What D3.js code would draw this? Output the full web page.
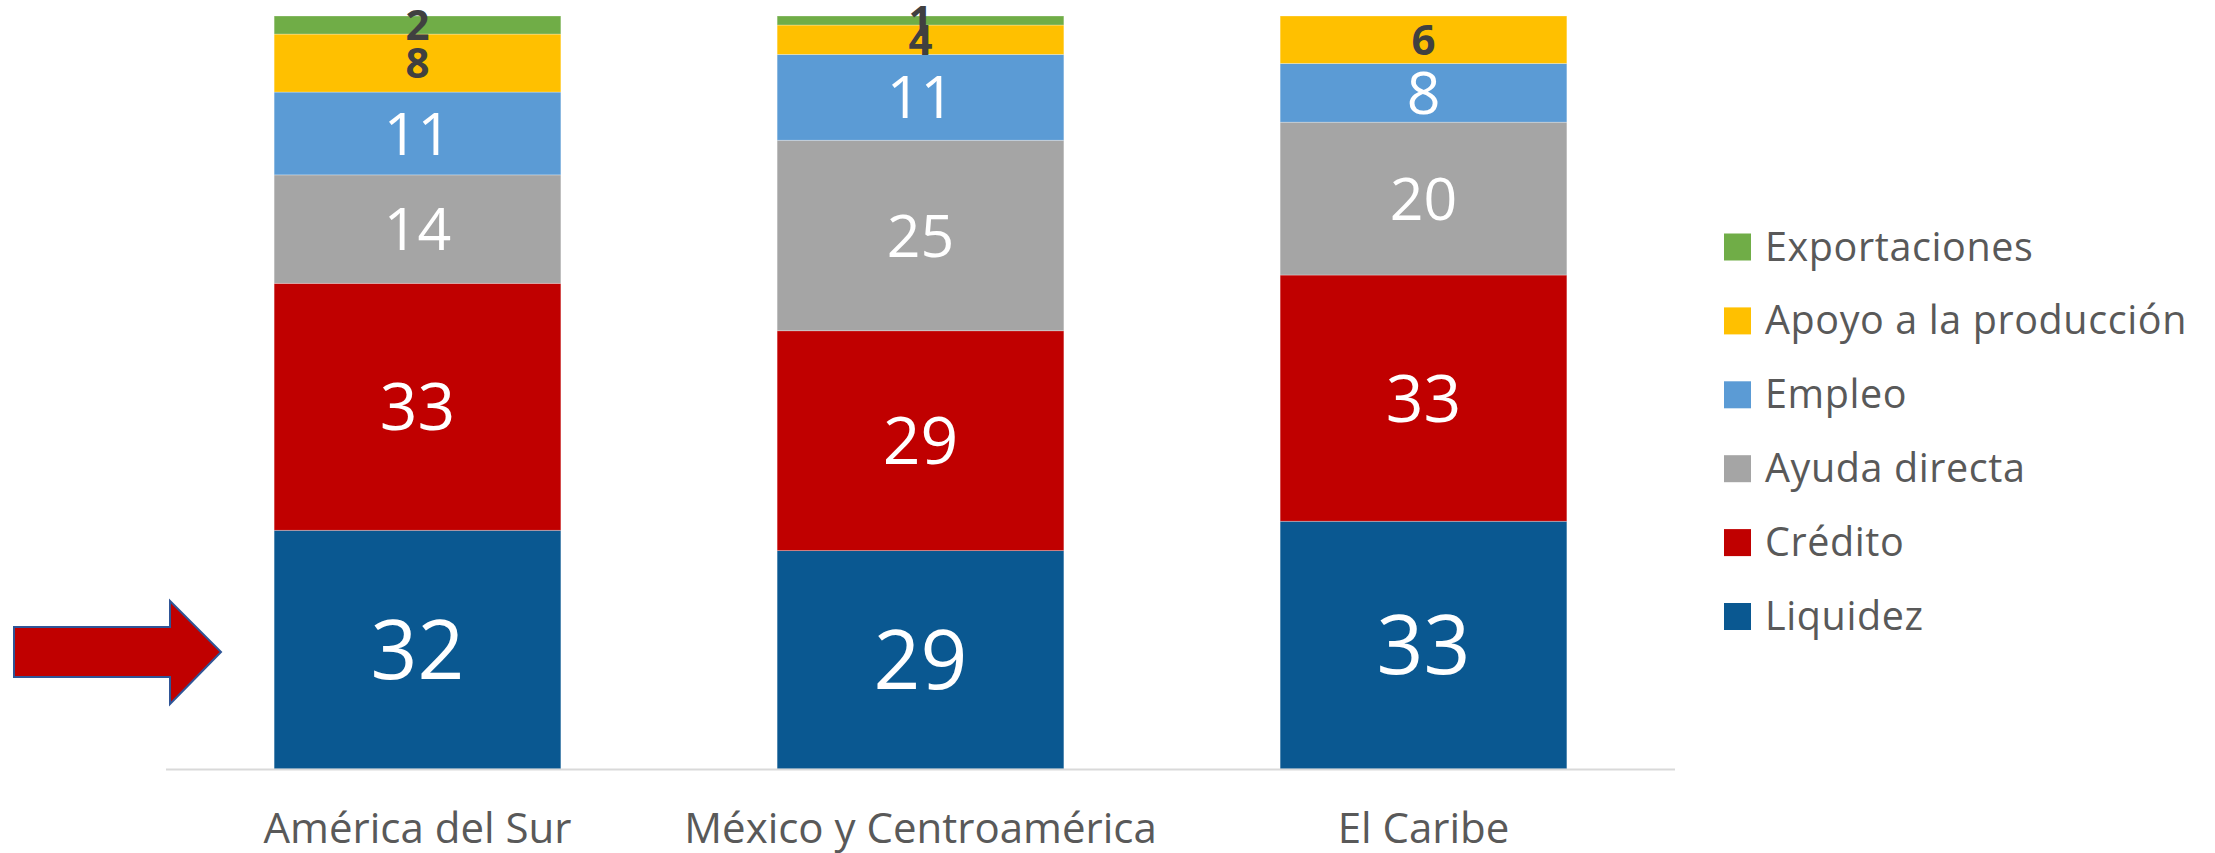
<!DOCTYPE html>
<html>
<head>
<meta charset="utf-8">
<script src="https://cdn.jsdelivr.net/npm/d3@7"></script>
<style>
  html, body { margin: 0; padding: 0; background: #ffffff; }
  svg { display: block; }
  text { font-family: "Open Sans", "Noto Sans", sans-serif; }
</style>
</head>
<body>
<svg id="chart" width="2215" height="853"></svg>
<script>
// ---- Data (percent of measures, by region) ----
const categories = ["América del Sur", "México y Centroamérica", "El Caribe"];
const seriesNames = ["Liquidez", "Crédito", "Ayuda directa", "Empleo", "Apoyo a la producción", "Exportaciones"];
const liquidez      = [31.7, 29.0, 32.9];
const credito       = [32.8, 29.2, 32.7];
const ayudaDirecta  = [14.4, 25.3, 20.3];
const empleo        = [11.0, 11.4, 7.8];
const apoyo         = [7.7, 3.9, 6.3];
const exportaciones = [2.4, 1.2, 0];
const yDomain = [0, 100];

const seriesValues = [liquidez, credito, ayudaDirecta, empleo, apoyo, exportaciones];
const colors = ["#0A5891", "#C00000", "#A5A5A5", "#5B9BD5", "#FFC000", "#70AD47"];
// label style per series
const labelStyle = [
  { size: 82, fill: "#ffffff", weight: 400 },
  { size: 66, fill: "#ffffff", weight: 400 },
  { size: 59, fill: "#ffffff", weight: 400 },
  { size: 59, fill: "#ffffff", weight: 400 },
  { size: 42, fill: "#404040", weight: 700 },
  { size: 42, fill: "#404040", weight: 700 }
];

// build table
const table = categories.map((c, i) => {
  const row = { cat: c };
  seriesNames.forEach((s, j) => { row[s] = seriesValues[j][i]; });
  return row;
});

const svg = d3.select("#chart");

const x = d3.scaleBand().domain(categories).range([166, 1675]).paddingInner(0.43).paddingOuter(0.215);
const y = d3.scaleLinear().domain(yDomain).range([769, 16]);

const stack = d3.stack().keys(seriesNames);
const stacked = stack(table);

const layers = svg.append("g").selectAll("g.layer")
  .data(stacked)
  .join("g")
  .attr("class", "layer")
  .attr("fill", (d, i) => colors[i]);

layers.selectAll("rect")
  .data(d => d.map(v => ({ v, key: d.key })))
  .join("rect")
  .attr("x", d => x(d.v.data.cat))
  .attr("width", x.bandwidth())
  .attr("y", d => y(d.v[1]))
  .attr("height", d => Math.max(0, y(d.v[0]) - y(d.v[1])))
  .attr("stroke", "#ffffff")
  .attr("stroke-opacity", 0.35)
  .attr("stroke-width", 0.8);

// axis baseline
svg.append("line")
  .attr("x1", 166).attr("x2", 1675)
  .attr("y1", 769.5).attr("y2", 769.5)
  .attr("stroke", "#D9D9D9").attr("stroke-width", 2);

// data labels
const fmt = d3.format(".0f");
stacked.forEach((layer, i) => {
  const st = labelStyle[i];
  svg.append("g").selectAll("text")
    .data(layer.filter(v => v[1] - v[0] > 0))
    .join("text")
    .attr("x", v => x(v.data.cat) + x.bandwidth() / 2)
    .attr("y", v => (y(v[0]) + y(v[1])) / 2 + st.size * 0.357)
    .attr("text-anchor", "middle")
    .attr("font-size", st.size)
    .attr("font-weight", st.weight)
    .attr("fill", st.fill)
    .text(v => fmt(v[1] - v[0]));
});

// category axis labels
const xAxis = d3.axisBottom(x).tickSize(0).tickPadding(0);
const gx = svg.append("g").attr("transform", "translate(0,769)").call(xAxis);
gx.select(".domain").remove();
gx.selectAll("text")
  .attr("y", 74)
  .attr("dy", 0)
  .attr("font-size", 42)
  .attr("fill", "#595959")
  .style("font-family", "'Open Sans', sans-serif");

// legend (reverse order)
const legendItems = seriesNames.map((s, i) => ({ s, c: colors[i] })).reverse();
const legend = svg.append("g");
const lg = legend.selectAll("g")
  .data(legendItems)
  .join("g")
  .attr("transform", (d, i) => `translate(1724, ${233.5 + i * 73.9})`);
lg.append("rect").attr("width", 27).attr("height", 27).attr("fill", d => d.c);
lg.append("text")
  .attr("x", 41).attr("y", 27)
  .attr("font-size", 39.5)
  .attr("letter-spacing", 0.6)
  .attr("fill", "#595959")
  .text(d => d.s);

// arrow annotation
svg.append("polygon")
  .attr("points", "14,627 170,627 170,601 221,652 170,704 170,677 14,677")
  .attr("fill", "#C00000")
  .attr("stroke", "#2F5597")
  .attr("stroke-width", 2);
</script>
</body>
</html>
